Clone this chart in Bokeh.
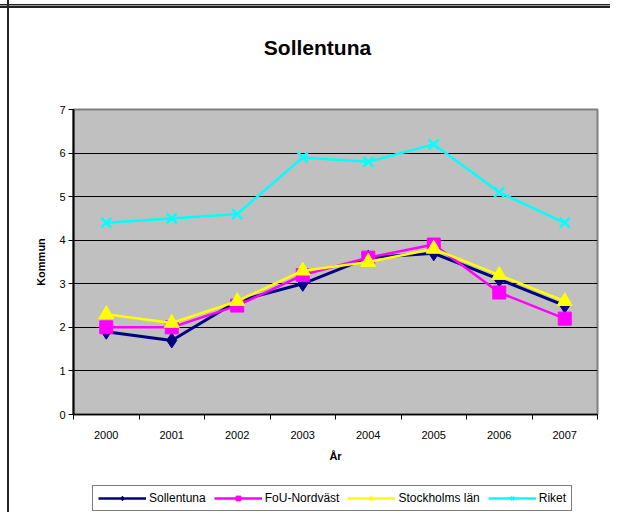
from bokeh.plotting import figure
from bokeh.models import (FixedTicker, Legend, LegendItem, Range1d, Label)
from bokeh.layouts import column
from bokeh.embed import file_html
from bokeh.resources import INLINE

title_text = "Sollentuna"
years = ["2000", "2001", "2002", "2003", "2004", "2005", "2006", "2007"]
sollentuna = [1.9, 1.7, 2.6, 3.0, 3.6, 3.7, 3.1, 2.5]
fou_nordvast = [2.0, 2.0, 2.5, 3.2, 3.6, 3.9, 2.8, 2.2]
stockholms_lan = [2.3, 2.1, 2.6, 3.3, 3.5, 3.8, 3.2, 2.6]
riket = [4.4, 4.5, 4.6, 5.9, 5.8, 6.2, 5.1, 4.4]
series_names = ["Sollentuna", "FoU-Nordväst", "Stockholms län", "Riket"]
y_ticks = [0, 1, 2, 3, 4, 5, 6, 7]

FONT = "Liberation Sans"
xs = [i + 0.5 for i in range(len(years))]

LEFT_LINE = "linear-gradient(#222,#222) 7px 0/2px 100% no-repeat"


def strip(height, extra_bg=""):
    f = figure(width=610, height=height, output_backend="svg", toolbar_location=None,
               x_axis_type=None, y_axis_type=None, min_border=0,
               x_range=Range1d(0, 1), y_range=Range1d(-1, 0))
    f.outline_line_color = None
    f.background_fill_alpha = 0
    f.border_fill_alpha = 0
    f.grid.grid_line_color = None
    f.styles = {"background": LEFT_LINE + extra_bg + ", white"}
    return f


# title strip
t = strip(70, ", linear-gradient(#222,#222) 0 4px/100% 1px no-repeat, "
              "linear-gradient(#999,#999) 0 5px/100% 1px no-repeat, "
              "linear-gradient(#222,#222) 0 6px/100% 2px no-repeat")
t.add_layout(Label(x=244, y=23, x_units="screen", y_units="screen", text=title_text,
                   text_font=FONT, text_font_style="bold", text_font_size="21px",
                   text_color="black", text_align="center", text_baseline="middle"))

# main chart
p = figure(width=610, height=412, output_backend="svg", toolbar_location=None,
           x_range=Range1d(0, len(years)), y_range=Range1d(0, 7),
           min_border_left=73, min_border_right=13, min_border_top=39,
           min_border_bottom=68)
p.background_fill_color = "#C0C0C0"
p.border_fill_alpha = 0
p.outline_line_color = "#808080"
p.outline_line_width = 2
p.styles = {"background": LEFT_LINE + ", white"}

# grid
p.xgrid.grid_line_color = None
p.ygrid.ticker = FixedTicker(ticks=[1, 2, 3, 4, 5, 6])
p.ygrid.grid_line_color = "black"
p.ygrid.grid_line_width = 1

# x axis
xa = p.xaxis[0]
xa.ticker = FixedTicker(ticks=xs, minor_ticks=list(range(len(years) + 1)))
xa.major_label_overrides = {x: y for x, y in zip(xs, years)}
xa.major_tick_out = 0
xa.major_tick_in = 0
xa.minor_tick_out = 5
xa.minor_tick_in = 0
xa.minor_tick_line_color = "black"
xa.axis_line_color = "black"
xa.axis_line_width = 1.5
xa.major_label_standoff = 11
xa.major_label_text_font = FONT
xa.major_label_text_font_size = "11px"
xa.major_label_text_color = "black"
xa.axis_label = "År"
xa.axis_label_text_font = FONT
xa.axis_label_text_font_style = "bold"
xa.axis_label_text_font_size = "11px"
xa.axis_label_text_color = "black"
xa.axis_label_standoff = 8

# y axis
ya = p.yaxis[0]
ya.ticker = FixedTicker(ticks=y_ticks)
ya.minor_tick_line_color = None
ya.major_tick_out = 5
ya.major_tick_in = 0
ya.major_tick_line_color = "black"
ya.axis_line_color = "black"
ya.axis_line_width = 2
ya.major_label_standoff = 3
ya.major_label_text_font = FONT
ya.major_label_text_font_size = "11px"
ya.major_label_text_color = "black"
ya.axis_label = "Kommun"
ya.axis_label_text_font = FONT
ya.axis_label_text_font_style = "bold"
ya.axis_label_text_font_size = "11px"
ya.axis_label_text_color = "black"
ya.axis_label_standoff = 9

styles = [
    dict(color="#000080", marker="diamond", size=15, lw=3),
    dict(color="#FF00FF", marker="square", size=13, lw=2.5),
    dict(color="#FFFF00", marker="triangle", size=15, lw=2.5),
    dict(color="#00FFFF", marker="x", size=14, lw=2.5),
]
data = [sollentuna, fou_nordvast, stockholms_lan, riket]

for vals, st in zip(data, styles):
    p.line(xs, vals, line_color=st["color"], line_width=st["lw"])
    if st["marker"] == "x":
        p.scatter(xs, vals, marker="x", size=st["size"], line_color=st["color"],
                  line_width=2.5)
    else:
        p.scatter(xs, vals, marker=st["marker"], size=st["size"],
                  fill_color=st["color"], line_color=st["color"])

# legend strip (its renderers draw the same series, far outside its tiny y range)
q = strip(30)
items = []
for name, vals, st in zip(series_names, data, styles):
    rl = q.line(xs, vals, line_color=st["color"], line_width=2.5)
    if st["marker"] == "x":
        rm = q.scatter(xs, vals, marker="x", size=9, line_color=st["color"], line_width=2)
    else:
        rm = q.scatter(xs, vals, marker=st["marker"], size=9, fill_color=st["color"],
                       line_color=st["color"])
    items.append(LegendItem(label=name, renderers=[rl, rm]))

legend = Legend(items=items, orientation="horizontal", location=(19, 1))
legend.label_text_font = FONT
legend.label_text_font_size = "12px"
legend.label_text_color = "black"
legend.glyph_width = 48
legend.glyph_height = 12
legend.label_standoff = 3
legend.spacing = 8
legend.padding = 5
legend.margin = 0
legend.border_line_color = "black"
legend.border_line_width = 1
legend.background_fill_color = "white"
legend.label_height = 12
q.add_layout(legend, "center")

layout = column(t, p, q, spacing=0)
open("out.html", "w").write(file_html(layout, INLINE))
